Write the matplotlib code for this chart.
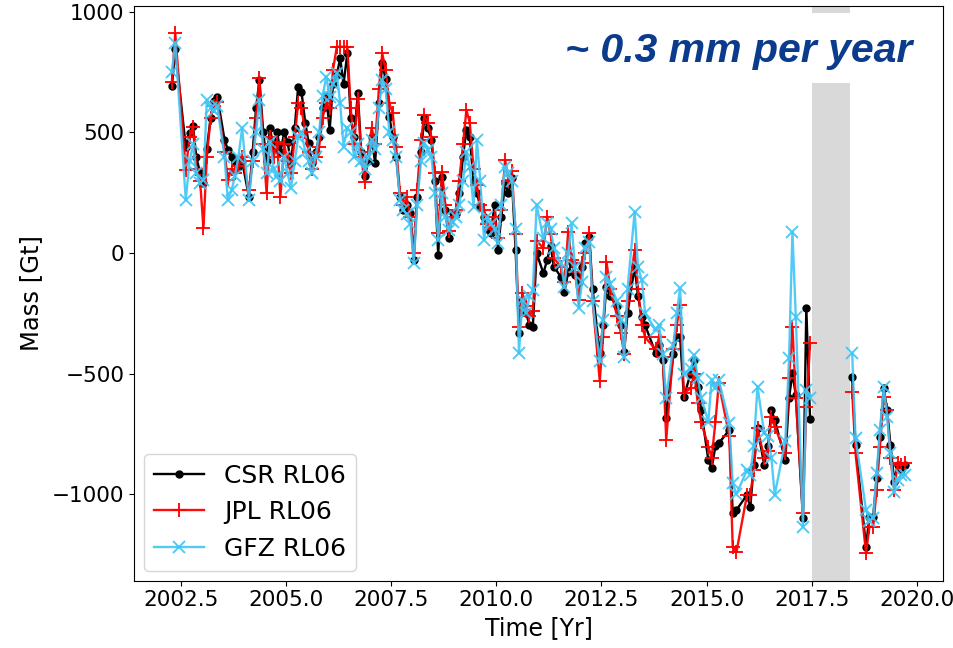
import matplotlib
matplotlib.use("Agg")
import matplotlib.pyplot as plt
import matplotlib.ticker as mticker
from matplotlib.patches import Rectangle

# ---------------- data ----------------
time = [
    2002.29, 2002.37, 2002.62, 2002.71, 2002.79, 2002.87, 2002.96,
    2003.04, 2003.12, 2003.21, 2003.29, 2003.37, 2003.54, 2003.62, 2003.71, 2003.79, 2003.87, 2003.96,
    2004.12, 2004.21, 2004.29, 2004.37, 2004.46, 2004.54, 2004.62, 2004.71, 2004.79, 2004.87, 2004.96,
    2005.04, 2005.12, 2005.21, 2005.29, 2005.37, 2005.46, 2005.54, 2005.62, 2005.71, 2005.79, 2005.87, 2005.96,
    2006.04, 2006.12, 2006.21, 2006.29, 2006.37, 2006.46, 2006.54, 2006.62, 2006.71, 2006.79, 2006.87, 2006.96,
    2007.04, 2007.12, 2007.21, 2007.29, 2007.37, 2007.46, 2007.54, 2007.62, 2007.71, 2007.79, 2007.87, 2007.96,
    2008.04, 2008.12, 2008.21, 2008.29, 2008.37, 2008.46, 2008.54, 2008.62, 2008.71, 2008.79, 2008.87, 2008.96,
    2009.04, 2009.12, 2009.21, 2009.29, 2009.37, 2009.46, 2009.54, 2009.62, 2009.71, 2009.79, 2009.87, 2009.96,
    2010.04, 2010.12, 2010.21, 2010.29, 2010.37, 2010.46, 2010.54, 2010.62, 2010.71, 2010.79, 2010.87, 2010.96,
    2011.12, 2011.21, 2011.29, 2011.37, 2011.54, 2011.62, 2011.71, 2011.79, 2011.87, 2011.96,
    2012.04, 2012.12, 2012.21, 2012.29, 2012.46, 2012.54, 2012.62, 2012.71, 2012.87, 2012.96,
    2013.04, 2013.12, 2013.29, 2013.37, 2013.46, 2013.54, 2013.79, 2013.87, 2013.96,
    2014.04, 2014.21, 2014.29, 2014.37, 2014.46, 2014.62, 2014.71, 2014.79, 2014.87,
    2015.04, 2015.12, 2015.21, 2015.29, 2015.54, 2015.62, 2015.71, 2015.96,
    2016.04, 2016.12, 2016.21, 2016.37, 2016.46, 2016.54, 2016.62, 2016.87, 2016.96,
    2017.04, 2017.12, 2017.29, 2017.37, 2017.46,
    2018.46, 2018.54, 2018.79, 2018.87, 2018.96,
    2019.04, 2019.12, 2019.21, 2019.29, 2019.37, 2019.46, 2019.54, 2019.62, 2019.71,
]

csr = [
    692, 845, 440, 497, 527, 400, 330,
    290, 430, 560, 630, 648, 470, 427, 400, 380, 358, 380,
    234, 420, 600, 717, 503, 380, 517, 434, 500, 420, 500,
    460, 372, 520, 687, 669, 540, 455, 372, 420, 480, 600, 651,
    510, 700, 740, 807, 700, 828, 560, 482, 662, 420, 320, 380,
    480, 372, 620, 786, 720, 565, 480, 400, 234, 178, 200, 164,
    -29, 230, 420, 558, 520, 468, 300, -8, 316, 180, 61, 164,
    160, 250, 400, 510, 480, 300, 250, 192, 150, 100, 82, 200,
    12, 150, 289, 247, 310, 12, -333, -200, -250, -299, -305, -1,
    -84, -29, 30, -57, -100, -160, -80, -43, -90, -119,
    -60, 40, 68, -150, -416, -300, -140, -180, -222, -300,
    -409, -250, -57, -180, -264, -300, -416, -380, -444,
    -685, -420, -350, -347, -596, -500, -444, -554, -650,
    -858, -893, -800, -789, -734, -1079, -1066, -1003,
    -1052, -880, -727, -879, -800, -651, -692, -858, -600,
    -499, -589, -1100, -229, -690,
    -513, -796, -1218, -1093, -1093,
    -934, -762, -561, -651, -796, -948, -879, -900, -880,
]

jpl = [
    710, 911, 344, 480, 524, 350, 300,
    102, 400, 560, 610, 627, 420, 303, 350, 330, 360, 400,
    260, 380, 560, 724, 450, 250, 480, 400, 460, 234, 450,
    380, 330, 480, 620, 600, 500, 420, 350, 400, 440, 560, 620,
    600, 760, 855, 855, 855, 855, 600, 450, 640, 400, 296, 420,
    520, 450, 680, 828, 760, 620, 579, 440, 250, 200, 230, 150,
    -1, 260, 470, 572, 540, 480, 330, 82, 337, 200, 90, 150,
    180, 300, 450, 593, 540, 350, 280, 200, 180, 120, 100, 150,
    60, 180, 386, 300, 340, 80, -305, -167, -220, -260, -240, 50,
    20, 151, 80, -20, -60, -120, 88, -30, -80, -195,
    -40, 0, 82, -200, -530, -350, -36, -150, -260, -330,
    -420, -200, 12, -150, -300, -350, -400, -350, -430,
    -775, -400, -300, -216, -582, -560, -500, -623, -700,
    -803, -850, -700, -540, -760, -1218, -1240, -1003,
    -1003, -900, -727, -850, -820, -679, -720, -831, -520,
    -305, -600, -1080, -637, -375,
    -575, -831, -1245, -1135, -1135,
    -983, -803, -596, -651, -850, -983, -872, -880, -872,
]

gfz = [
    752, 869, 220, 380, 450, 330, 290,
    303, 634, 600, 590, 610, 400, 220, 260, 320, 400, 517,
    220, 380, 500, 634, 430, 330, 460, 350, 320, 300, 400,
    330, 268, 380, 480, 500, 420, 380, 330, 400, 500, 650, 731,
    648, 700, 745, 620, 441, 520, 500, 400, 450, 380, 350, 400,
    470, 430, 600, 717, 680, 500, 468, 400, 220, 180, 160, 120,
    -43, 200, 380, 455, 427, 400, 250, 54, 250, 150, 95, 130,
    150, 200, 300, 420, 358, 192, 468, 300, 54, 150, 120, 100,
    40, 200, 358, 330, 300, 100, -416, -195, -250, -180, -153, 199,
    60, 123, 100, 20, -40, -140, 0, 123, -60, -229,
    -120, 20, 47, -200, -450, -280, -98, -130, -200, -280,
    -430, -150, 171, -60, -112, -250, -319, -300, -420,
    -600, -380, -250, -146, -500, -480, -423, -520, -600,
    -700, -526, -560, -526, -706, -955, -1000, -900,
    -920, -800, -554, -748, -760, -850, -1003, -780, -437,
    88, -264, -1135, -568, -600,
    -416, -768, -1066, -1110, -1100,
    -914, -734, -554, -680, -831, -990, -941, -920, -920,
]

series_labels = ["CSR RL06", "JPL RL06", "GFZ RL06"]
gap_start, gap_end = 2017.5, 2018.41
xticks = [2002.5, 2005.0, 2007.5, 2010.0, 2012.5, 2015.0, 2017.5, 2020.0]
yticks = [-1000, -500, 0, 500, 1000]
annotation = "~ 0.3 mm per year"

# ---------------- figure ----------------
fig = plt.figure(figsize=(9.54, 6.48), dpi=100)
ax = fig.add_axes([0.1405, 0.1039, 0.848, 0.8868])

ax.axvspan(gap_start, gap_end, color="#d9d9d9", zorder=0, lw=0)

# split at the GRACE / GRACE-FO gap so no line crosses it
split = next(i for i, t in enumerate(time) if t > gap_start)
segments = [(0, split), (split, len(time))]

styles = [
    dict(color="black", marker=".", markersize=10, lw=1.7, zorder=2),
    dict(color="red", marker="+", markersize=10, mew=1.4, lw=1.7, zorder=3, alpha=0.95),
    dict(color="#3ec6f6", marker="x", markersize=9, mew=1.4, lw=1.7, zorder=4, alpha=0.9),
]
for vals, lab, st in zip([csr, jpl, gfz], series_labels, styles):
    for k, (a, b) in enumerate(segments):
        ax.plot(time[a:b], vals[a:b], label=lab if k == 0 else None, **st)

ax.set_xlim(2001.39, 2020.62)
ax.set_ylim(-1359, 1024)
ax.set_xticks(xticks)
ax.set_yticks(yticks)
ax.xaxis.set_major_formatter(mticker.FormatStrFormatter("%.1f"))
ax.yaxis.set_major_formatter(mticker.FuncFormatter(lambda v, p: f"{int(v)}".replace("-", "\u2212")))
ax.tick_params(labelsize=15.5)
ax.set_xlabel("Time [Yr]", fontsize=17)
ax.set_ylabel("Mass [Gt]", fontsize=17.5, labelpad=6)

ax.legend(loc="lower left", fontsize=18, borderaxespad=0.4)

# white box behind the overlaid annotation
fig.patches.append(Rectangle((540 / 954, 1 - 83 / 648), 385 / 954, 70 / 648,
                             transform=fig.transFigure, facecolor="white",
                             edgecolor="none", zorder=5))
fig.text(912 / 954, 1 - 62 / 648, annotation, ha="right", va="baseline",
         fontsize=29.5, fontweight="bold", fontstyle="italic", color="#0b3b8c",
         family="Liberation Sans", zorder=6)

fig.savefig("out.png", dpi=100)
